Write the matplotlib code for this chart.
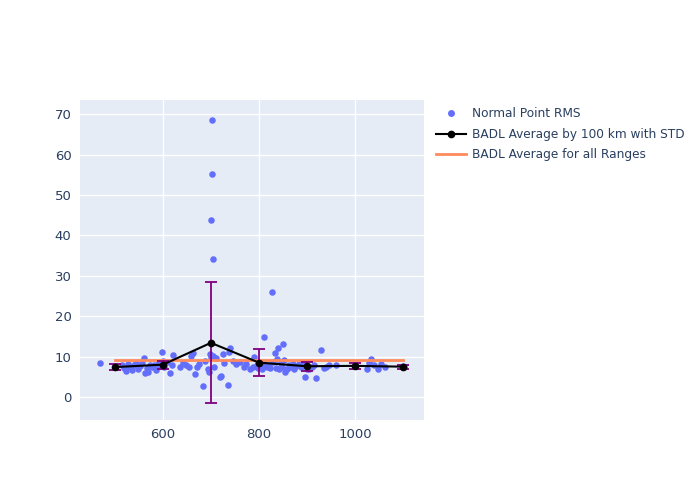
import numpy as np
import matplotlib
matplotlib.use("Agg")
import matplotlib.pyplot as plt
from matplotlib.lines import Line2D

# -----------------------------
# Data
# -----------------------------
rms_range = [
    469, 515, 520, 524, 528, 532, 536, 540, 545, 548, 552, 556, 560, 562, 566, 570, 574, 578, 582, 585,
    590, 594, 598, 600, 603,
    608, 615, 618, 621, 635, 642, 648, 654, 658, 662, 667, 671, 676, 683, 688, 693, 696, 698, 700,
    702, 702, 701, 704, 705, 707, 710,
    719, 721, 725, 728, 735, 738, 740, 745, 752, 760, 768, 772, 782, 787, 790, 795, 798,
    802, 806, 810, 813, 816, 820, 823, 827, 830, 833, 835, 837, 840, 842, 845, 848, 851, 853, 855,
    858, 862, 865, 870, 873, 878, 883, 888, 893, 896, 900, 905,
    910, 915, 919, 929, 935, 940, 945, 960, 1000, 1025, 1030, 1033, 1040, 1047, 1055, 1062, 1100, 1102,
]
rms_value = [
    8.4, 8.0, 7.2, 6.4, 8.1, 7.5, 6.6, 7.8, 8.3, 7.0, 7.6, 8.5, 9.7, 5.9, 7.1, 6.2, 8.0, 7.3, 7.8, 6.7,
    8.2, 7.6, 11.1, 9.0, 7.4,
    8.6, 5.9, 7.8, 10.3, 7.4, 8.4, 7.8, 7.3, 10.2, 10.8, 5.7, 7.4, 8.1, 2.7, 9.0, 6.8, 6.2, 10.6, 9.8,
    68.5, 55.2, 43.8, 34.1, 10.2, 7.4, 9.6,
    4.9, 5.3, 10.7, 8.4, 3.0, 11.2, 12.1, 8.9, 8.2, 8.6, 7.5, 8.1, 6.8, 7.4, 9.9, 8.0, 7.2,
    7.8, 6.9, 14.8, 8.2, 7.5, 8.0, 7.1, 26.0, 8.6, 10.8, 7.2, 9.4, 12.1, 6.8, 8.4, 7.5, 13.1, 9.1, 6.1,
    7.0, 8.0, 7.4, 8.2, 6.9, 7.6, 8.1, 7.3, 8.4, 4.9, 7.0, 6.9,
    7.4, 7.8, 4.7, 11.6, 7.2, 7.4, 8.0, 7.8, 7.6, 6.9, 8.4, 9.3, 8.0, 6.9, 8.2, 7.4, 7.6, 7.3,
]

bin_center = [500, 600, 700, 800, 900, 1000, 1100]
bin_mean = [7.4, 8.0, 13.4, 8.5, 7.6, 7.7, 7.5]
bin_std = [0.8, 1.0, 15.0, 3.3, 1.1, 0.8, 0.5]

overall_mean = 9.2
overall_span = [500, 1100]

# -----------------------------
# Figure
# -----------------------------
fig = plt.figure(figsize=(7, 5), dpi=100)
ax = fig.add_axes([0.114, 0.16, 0.492, 0.64])
ax.set_facecolor("#E5ECF6")

ax.scatter(rms_range, rms_value, s=22, color="#636EFA", linewidths=0, zorder=3)
ax.errorbar(bin_center, bin_mean, yerr=bin_std, color="black", marker="o",
            markersize=4.5, linewidth=1.5, ecolor="purple", elinewidth=1.3,
            capsize=4, capthick=1.3, zorder=4)
ax.plot(overall_span, [overall_mean, overall_mean], color="#FF8A5C", linewidth=2, zorder=3.5)

ax.set_xlim(427, 1144)
ax.set_ylim(-5.7, 73.5)
ax.set_xticks([600, 800, 1000])
ax.set_yticks(range(0, 71, 10))
ax.grid(True, color="white", linewidth=1)
ax.set_axisbelow(True)
for s in ax.spines.values():
    s.set_visible(False)
ax.tick_params(length=0, colors="#2a3f5f", labelsize=9.5, pad=6)

handles = [
    Line2D([], [], linestyle="none", marker="o", markersize=5,
           markerfacecolor="#636EFA", markeredgewidth=0),
    Line2D([], [], color="black", marker="o", markersize=4.5, linewidth=1.5),
    Line2D([], [], color="#FF8A5C", linewidth=2),
]
labels = ["Normal Point RMS", "BADL Average by 100 km with STD", "BADL Average for all Ranges"]
ax.legend(handles, labels, loc="upper left", bbox_to_anchor=(1.013, 1.0), frameon=False,
          labelcolor="#2a3f5f", fontsize=8.7, handlelength=2.5, handletextpad=0.5,
          borderaxespad=0.2, labelspacing=0.62)

fig.savefig("out.png", dpi=100)
